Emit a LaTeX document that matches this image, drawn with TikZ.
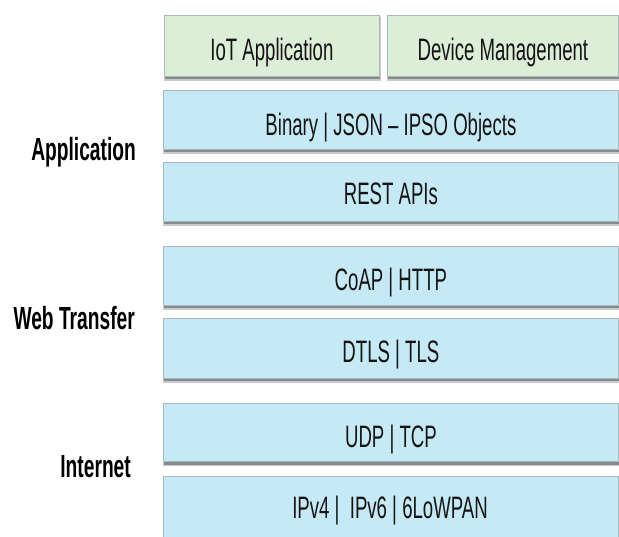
\documentclass[tikz,border=0pt]{standalone}
\usepackage{fontspec}
\setmainfont[FakeStretch=0.6]{Liberation Sans}
\definecolor{boxblue}{HTML}{C6EAF5}
\definecolor{boxgreen}{HTML}{DCEDD8}
\definecolor{boxedge}{HTML}{A9B8BC}
\definecolor{shadowgray}{HTML}{858A8D}
\tikzset{
  layerbox/.style={draw=boxedge, line width=0.8pt, fill=boxblue, inner sep=0pt, anchor=north west},
  greenbox/.style={layerbox, fill=boxgreen},
  boxtext/.style={anchor=base, inner sep=0pt, font=\fontsize{31}{34}\selectfont, text=black!92},
  sidelabel/.style={anchor=base east, inner sep=0pt, font=\fontsize{32}{35}\selectfont\bfseries, text=black},
}
\newcommand{\layer}[6]{% name, style, x1, y1, x2, y2
  \fill[shadowgray!45] (#3,#4+2) rectangle (#5+1.5,#6+5);
  \fill[shadowgray] (#3+0.5,#4+2) rectangle (#5+1,#6+3.5);
  \node[#2, minimum width={(#5-#3)*1pt}, minimum height={(#6-#4)*1pt}] (#1) at (#3,#4) {};
}
\begin{document}
\begin{tikzpicture}[x=1pt,y=-1pt]
\useasboundingbox (0,0) rectangle (619,537);
\fill[white] (0,0) rectangle (619,537);
\clip (0,0) rectangle (619,537);

\layer{iot}{greenbox}{164}{15}{379}{76}
\layer{dev}{greenbox}{387}{15}{618}{76}
\layer{bin}{layerbox}{163}{90}{618}{149}
\layer{rest}{layerbox}{163}{162}{618}{221}
\layer{coap}{layerbox}{163}{246}{618}{305}
\layer{dtls}{layerbox}{163}{318}{618}{378}
\layer{udp}{layerbox}{163}{403}{618}{461}
\layer{ip}{layerbox}{163}{476}{618}{560}

\node[boxtext] (tiot) at ([yshift=-14.5pt]iot.center) {IoT Application};
\node[boxtext] (tdev) at ([yshift=-14.5pt]dev.center) {Device Management};
\node[boxtext] (tbin) at ([yshift=-15.5pt]bin.center) {Binary | JSON – IPSO Objects};
\node[boxtext] (trest) at ([yshift=-13pt]rest.center) {REST APIs};
\node[boxtext] (tcoap) at ([yshift=-14.5pt]coap.center) {CoAP | HTTP};
\node[boxtext] (tdtls) at ([yshift=-14pt]dtls.center) {DTLS | TLS};
\node[boxtext] (tudp) at ([yshift=-15pt]udp.center) {UDP | TCP};
\node[boxtext] (tip) at (390,518) {IPv4 |\ \ IPv6 | 6LoWPAN};

\node[sidelabel] (lapp) at (136,161) {Application};
\node[sidelabel] (lweb) at (135,330) {Web Transfer};
\node[sidelabel] (lint) at (131,477) {Internet};
\end{tikzpicture}
\end{document}
